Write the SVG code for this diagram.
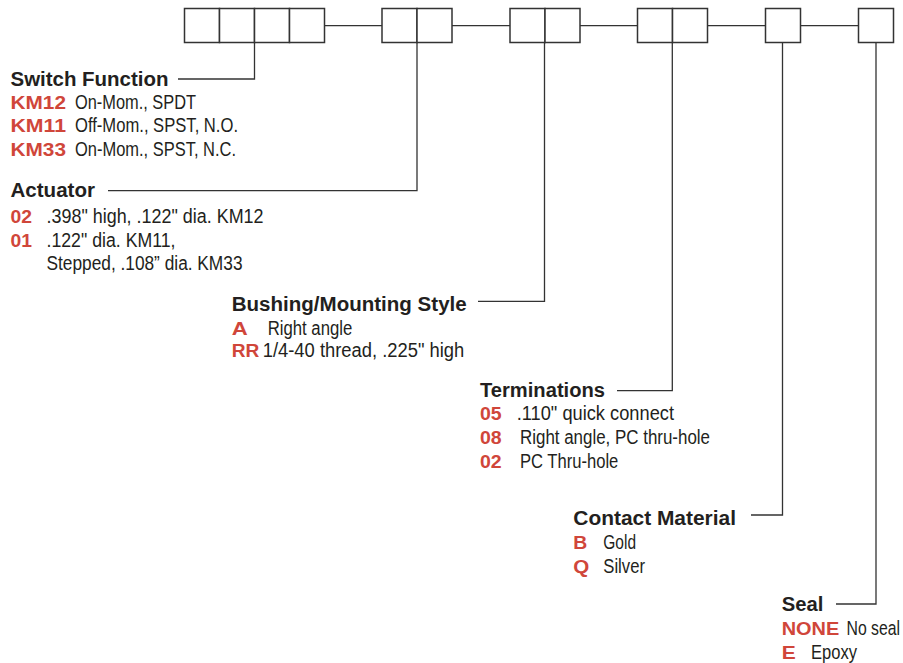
<svg xmlns="http://www.w3.org/2000/svg" width="903" height="663" viewBox="0 0 903 663">
<style>
.box{fill:#fff;stroke:#333;stroke-width:1.5}
.ln{fill:none;stroke:#333;stroke-width:1.3}
.t{font-family:"Liberation Sans",Arial,sans-serif;font-weight:bold;font-size:20px;fill:#231f20}
.c{font-family:"Liberation Sans",Arial,sans-serif;font-weight:bold;font-size:19px;fill:#d0463a}
.d{font-family:"Liberation Sans Narrow","Liberation Sans",Arial,sans-serif;font-size:19.5px;fill:#231f20}
</style>
<rect width="903" height="663" fill="#fff"/>
<g id="connectors">
<path class="ln" d="M324.5 25.7H382M452 25.7H510M580 25.7H637.5M707.5 25.7H765.5M800.5 25.7H858.5"/>
<path class="ln" d="M254.5 42.5V79H178"/>
<path class="ln" d="M417 42.5V190.7H108"/>
<path class="ln" d="M544.5 42.5V301.3H478"/>
<path class="ln" d="M672.3 42.5V390.7H617"/>
<path class="ln" d="M782.5 42.5V515H751"/>
<path class="ln" d="M876 42.5V604H836"/>
</g>
<g id="boxes">
<rect class="box" x="184.5" y="8.5" width="35" height="34"/>
<rect class="box" x="219.5" y="8.5" width="35" height="34"/>
<rect class="box" x="254.5" y="8.5" width="35" height="34"/>
<rect class="box" x="289.5" y="8.5" width="35" height="34"/>
<rect class="box" x="382" y="8.5" width="35" height="34"/>
<rect class="box" x="417" y="8.5" width="35" height="34"/>
<rect class="box" x="510" y="8.5" width="35" height="34"/>
<rect class="box" x="545" y="8.5" width="35" height="34"/>
<rect class="box" x="637.5" y="8.5" width="35" height="34"/>
<rect class="box" x="672.5" y="8.5" width="35" height="34"/>
<rect class="box" x="765.5" y="8.5" width="35" height="34"/>
<rect class="box" x="858.5" y="8.5" width="35" height="34"/>
</g>
<g id="switch-function">
<text class="t" x="10.5" y="85.5" textLength="158" lengthAdjust="spacingAndGlyphs">Switch Function</text>
<text class="c" x="10.5" y="108.8" textLength="55.5" lengthAdjust="spacingAndGlyphs">KM12</text>
<text class="d" x="75" y="108.8" textLength="121" lengthAdjust="spacingAndGlyphs">On-Mom., SPDT</text>
<text class="c" x="10.5" y="132.3" textLength="55.5" lengthAdjust="spacingAndGlyphs">KM11</text>
<text class="d" x="75" y="132.3" textLength="163" lengthAdjust="spacingAndGlyphs">Off-Mom., SPST, N.O.</text>
<text class="c" x="10.5" y="155.8" textLength="55.5" lengthAdjust="spacingAndGlyphs">KM33</text>
<text class="d" x="75" y="155.8" textLength="161" lengthAdjust="spacingAndGlyphs">On-Mom., SPST, N.C.</text>
</g>
<g id="actuator">
<text class="t" x="10.5" y="197.3" textLength="84.5" lengthAdjust="spacingAndGlyphs">Actuator</text>
<text class="c" x="10.5" y="223.3" textLength="21.5" lengthAdjust="spacingAndGlyphs">02</text>
<text class="d" x="46.5" y="223.3" textLength="217" lengthAdjust="spacingAndGlyphs">.398" high, .122" dia. KM12</text>
<text class="c" x="10.5" y="246.7" textLength="21.5" lengthAdjust="spacingAndGlyphs">01</text>
<text class="d" x="46.5" y="246.7" textLength="129" lengthAdjust="spacingAndGlyphs">.122" dia. KM11,</text>
<text class="d" x="46.5" y="270" textLength="196" lengthAdjust="spacingAndGlyphs">Stepped, .108” dia. KM33</text>
</g>
<g id="bushing">
<text class="t" x="231.7" y="310.7" textLength="235" lengthAdjust="spacingAndGlyphs">Bushing/Mounting Style</text>
<text class="c" x="231.7" y="335" textLength="16" lengthAdjust="spacingAndGlyphs">A</text>
<text class="d" x="267.7" y="335" textLength="84.6" lengthAdjust="spacingAndGlyphs">Right angle</text>
<text class="c" x="231.7" y="357.3" textLength="27.6" lengthAdjust="spacingAndGlyphs">RR</text>
<text class="d" x="262.7" y="357.3" textLength="201.6" lengthAdjust="spacingAndGlyphs">1/4-40 thread, .225" high</text>
</g>
<g id="terminations">
<text class="t" x="480" y="396.7" textLength="125" lengthAdjust="spacingAndGlyphs">Terminations</text>
<text class="c" x="480" y="420.3" textLength="21.7" lengthAdjust="spacingAndGlyphs">05</text>
<text class="d" x="516.7" y="420.3" textLength="157.3" lengthAdjust="spacingAndGlyphs">.110" quick connect</text>
<text class="c" x="480" y="444.3" textLength="21.7" lengthAdjust="spacingAndGlyphs">08</text>
<text class="d" x="520" y="444.3" textLength="190" lengthAdjust="spacingAndGlyphs">Right angle, PC thru-hole</text>
<text class="c" x="480" y="468.3" textLength="21.7" lengthAdjust="spacingAndGlyphs">02</text>
<text class="d" x="520" y="468.3" textLength="98.3" lengthAdjust="spacingAndGlyphs">PC Thru-hole</text>
</g>
<g id="contact-material">
<text class="t" x="573.3" y="525" textLength="162.7" lengthAdjust="spacingAndGlyphs">Contact Material</text>
<text class="c" x="573.3" y="549.3" textLength="14" lengthAdjust="spacingAndGlyphs">B</text>
<text class="d" x="603.3" y="549.3" textLength="32.7" lengthAdjust="spacingAndGlyphs">Gold</text>
<text class="c" x="573.3" y="573.3" textLength="16" lengthAdjust="spacingAndGlyphs">Q</text>
<text class="d" x="603.3" y="573.3" textLength="41.7" lengthAdjust="spacingAndGlyphs">Silver</text>
</g>
<g id="seal">
<text class="t" x="781.7" y="611" textLength="41.6" lengthAdjust="spacingAndGlyphs">Seal</text>
<text class="c" x="781.7" y="635" textLength="57.6" lengthAdjust="spacingAndGlyphs">NONE</text>
<text class="d" transform="translate(846.5 635) scale(0.81 1)" x="0" y="0">No seal</text>
<text class="c" x="781.7" y="658.5" textLength="14" lengthAdjust="spacingAndGlyphs">E</text>
<text class="d" x="811" y="658.5" textLength="46" lengthAdjust="spacingAndGlyphs">Epoxy</text>
</g>
</svg>
